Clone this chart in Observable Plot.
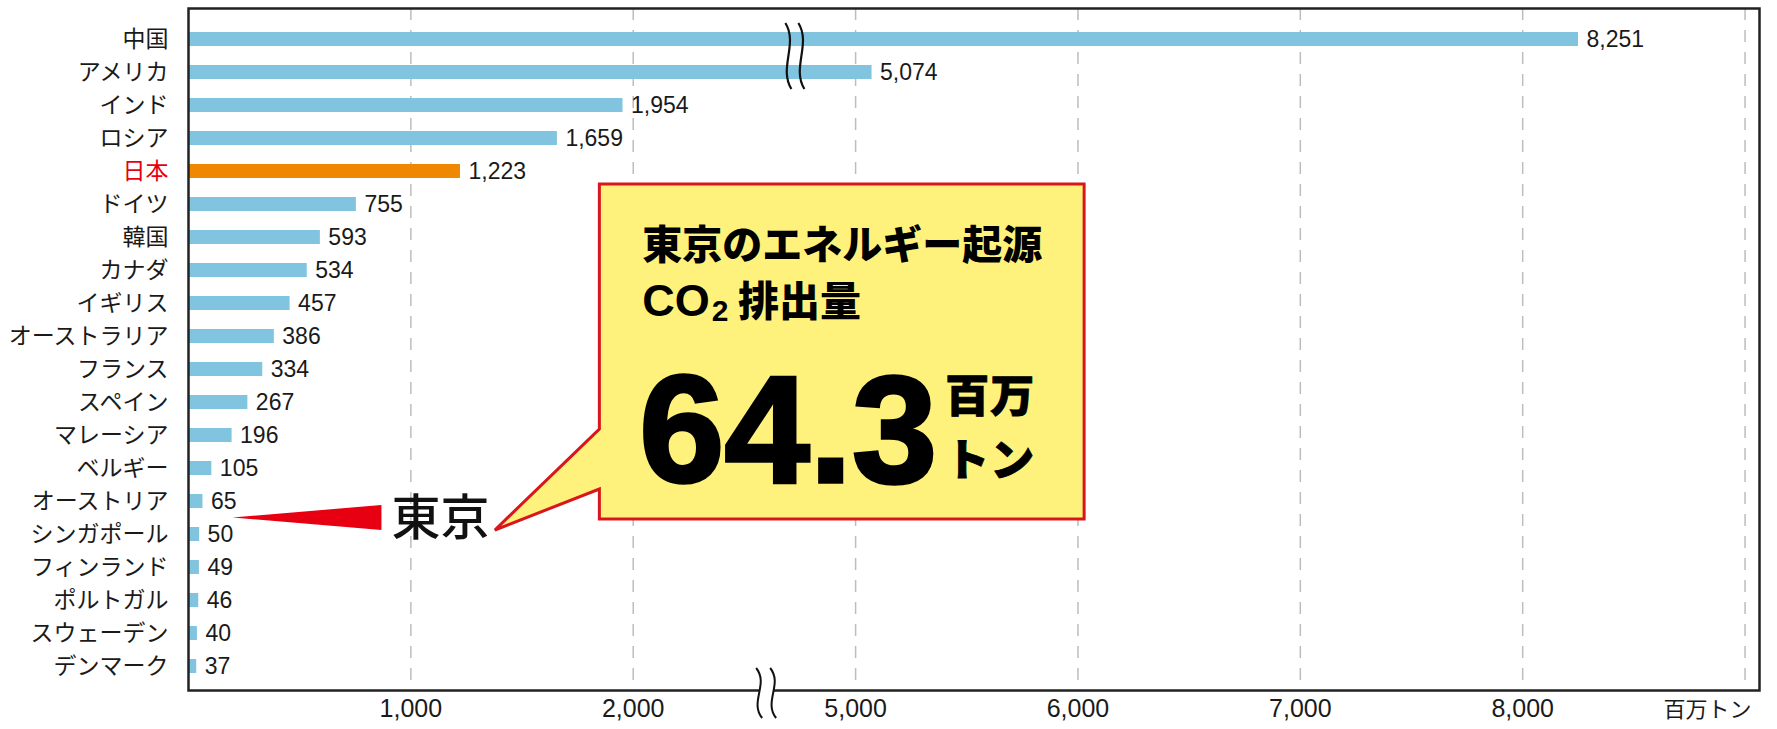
<!DOCTYPE html>
<html><head><meta charset="utf-8">
<script src="https://cdn.jsdelivr.net/npm/d3@7"></script>
<script src="https://cdn.jsdelivr.net/npm/@observablehq/plot@0.6"></script>
<style>body{margin:0;background:#fff}</style>
</head><body><div id="chart"></div>
<script>
// ---- data ----
const countries = ["中国","アメリカ","インド","ロシア","日本","ドイツ","韓国","カナダ","イギリス","オーストラリア","フランス","スペイン","マレーシア","ベルギー","オーストリア","シンガポール","フィンランド","ポルトガル","スウェーデン","デンマーク"];
const values = [8251,5074,1954,1659,1223,755,593,534,457,386,334,267,196,105,65,50,49,46,40,37];
const highlight = "日本";
const tickValues = [1000,2000,5000,6000,7000,8000];
const gridValues = [1000,2000,5000,6000,7000,8000,9000];
const unitLabel = "百万トン";
const tokyoLabel = "東京";
const calloutTitle = "東京のエネルギー起源";
const calloutSub = ["CO", "2", " 排出量"];
const calloutValue = "64.3";
const calloutUnit = ["百万", "トン"];

// broken axis: values above the break are shifted left by SHIFT
const BREAK_AT = 2500, SHIFT = 2000;
const toDisplay = v => v > BREAK_AT ? v - SHIFT : v;
const fromDisplay = d => d > BREAK_AT ? d + SHIFT : d;

const FONT = "'Liberation Sans','Noto Sans CJK JP',sans-serif";
const JP = "'Noto Sans CJK JP','Liberation Sans',sans-serif";
const BLUE = "#80c4df", ORANGE = "#ef8700", RED = "#e60012", INK = "#1a1a1a";

const data = countries.map((c, i) => ({country: c, value: values[i], d: toDisplay(values[i])}));
const fmt = d3.format(",");

const plot = Plot.plot({
  width: 1777, height: 729,
  marginLeft: 188, marginRight: 18, marginTop: 8, marginBottom: 39,
  style: {fontFamily: FONT, background: "#fff"},
  x: {domain: [0, 7065], axis: null},
  y: {domain: countries, range: [9.7, 695.3], padding: 0.58, axis: null},
  color: {type: "identity"},
  marks: [
    Plot.ruleX(gridValues.map(toDisplay), {stroke: "#bdbdbd", strokeWidth: 1.5, strokeDasharray: "12,10"}),
    Plot.barX(data, {x: "d", y: "country", fill: d => d.country === highlight ? ORANGE : BLUE}),
    Plot.text(data, {x: "d", y: "country", text: d => fmt(d.value), dx: 8, textAnchor: "start", fontSize: 23, fill: INK}),
    Plot.text(data, {y: "country", frameAnchor: "left", dx: -20, textAnchor: "end", text: "country",
      fontFamily: JP, fontSize: 23, fill: d => d.country === highlight ? RED : INK}),
    Plot.axisX({ticks: tickValues.map(toDisplay), tickFormat: d => fmt(fromDisplay(d)), tickSize: 0, tickPadding: 9, fontSize: 25, label: null, fill: INK}),
    Plot.text([unitLabel], {frameAnchor: "bottom-right", dx: -8, dy: 26, textAnchor: "end", fontFamily: JP, fontSize: 22, fill: INK}),
    Plot.frame({stroke: "#222", strokeWidth: 2.5})
  ]
});
document.getElementById("chart").appendChild(plot);

// ---- annotations positioned through the plot's scales ----
const svg = d3.select(plot);
const xs = plot.scale("x"), ys = plot.scale("y");
const X = v => xs.apply(v);
const bw = ys.bandwidth;
const Y = c => ys.apply(c) + bw / 2;
const wave = (x, y0, y1) => `M${x-3},${y0} C${x+10},${y0+(y1-y0)*0.32} ${x-10},${y0+(y1-y0)*0.68} ${x+3},${y1}`;
const ann = svg.append("g").attr("text-anchor", "start");

// break marks across the long bars
const bx = X(2700);
const by0 = Y(countries[0]) - 16, by1 = Y(countries[1]) + 17;
[bx, bx + 13].forEach(x => ann.append("path").attr("d", wave(x, by0, by1))
  .attr("fill", "none").attr("stroke", "#111").attr("stroke-width", 2.2));

// break marks on the axis
const ax = X(2600), ay = 690;
ann.append("path")
  .attr("d", `${wave(ax - 7, ay - 22, ay + 28)} L${ax + 10},${ay + 28} C${ax - 3},${ay + 28 - 50*0.32} ${ax + 17},${ay - 22 + 50*0.32} ${ax + 4},${ay - 22} Z`)
  .attr("fill", "#fff").attr("stroke", "none");
[ax - 7, ax + 7].forEach(x => ann.append("path").attr("d", wave(x, ay - 22, ay + 28))
  .attr("fill", "none").attr("stroke", "#111").attr("stroke-width", 2));

// red wedge pointing to Tokyo's position
const ty = (Y("オーストリア") + Y("シンガポール")) / 2;
ann.append("path")
  .attr("d", `M${X(200)},${ty} L${X(870)},${ty - 12.5} L${X(870)},${ty + 12.5} Z`)
  .attr("fill", RED);
ann.append("text").attr("x", X(915)).attr("y", ty).attr("dy", "0.36em")
  .attr("font-family", JP).attr("font-size", 49).attr("font-weight", 500).attr("fill", "#111")
  .text(tokyoLabel);

// callout box
const L = X(1850), R = X(4030), T = Y(highlight) + 13, B = Y("オーストリア") + 18;
ann.append("path")
  .attr("d", `M${L},${T} H${R} V${B} H${L} V${T + 305} L${X(1380)},${T + 346} L${L},${T + 245} Z`)
  .attr("fill", "#fff27c").attr("stroke", "#d9161c").attr("stroke-width", 3).attr("stroke-linejoin", "miter");

ann.append("text").attr("x", L + 43).attr("y", T + 61).attr("dy", "0.36em")
  .attr("font-family", JP).attr("font-size", 40).attr("font-weight", 900).attr("fill", "#000")
  .text(calloutTitle);

const sub = ann.append("text").attr("x", L + 43).attr("y", T + 128).attr("dy", "0.36em")
  .attr("font-family", FONT).attr("font-weight", 700).attr("fill", "#000");
sub.append("tspan").attr("font-size", 45).text(calloutSub[0]);
sub.append("tspan").attr("font-size", 30).attr("dy", 5).attr("dx", 2).text(calloutSub[1]);
sub.append("tspan").attr("font-size", 41).attr("dy", -5).attr("font-family", JP).attr("font-weight", 900).text(calloutSub[2]);

ann.append("text").attr("x", L + 40).attr("y", T + 298)
  .attr("font-family", "'Liberation Sans',sans-serif").attr("font-size", 153).attr("font-weight", 700)
  .attr("fill", "#000").attr("stroke", "#000").attr("stroke-width", 3.5)
  .text(calloutValue);

calloutUnit.forEach((u, i) => ann.append("text").attr("x", L + 346).attr("y", T + 228 + i * 64)
  .attr("font-family", JP).attr("font-size", 44).attr("font-weight", 900).attr("letter-spacing", 1)
  .attr("fill", "#000").attr("stroke", "#000").attr("stroke-width", 0.8).text(u));
</script>
</body></html>
